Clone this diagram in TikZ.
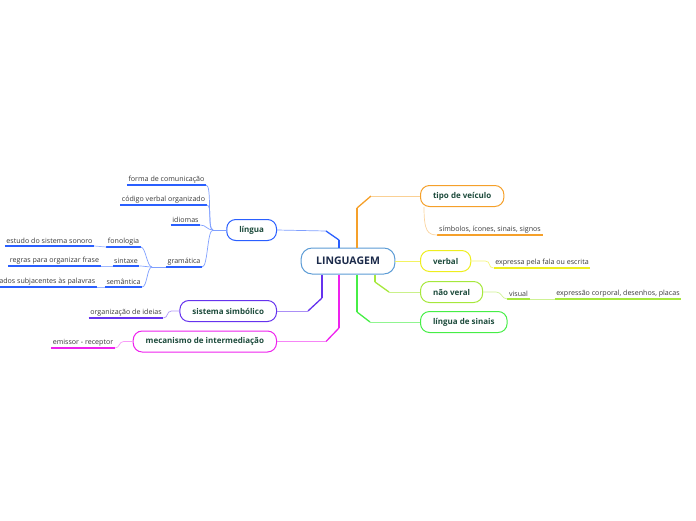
\documentclass[tikz,border=0pt]{standalone}
\usepackage{fontspec}
\setmainfont{Open Sans}
\usetikzlibrary{positioning}
\definecolor{cRoot}{HTML}{5B9BD5}
\definecolor{cRootInk}{HTML}{1B2A4A}
\definecolor{cInk}{HTML}{1D4B3C}
\definecolor{cLingua}{HTML}{2A5FFF}
\definecolor{cSist}{HTML}{6633EE}
\definecolor{cMec}{HTML}{EE22EE}
\definecolor{cTipo}{HTML}{F5A02A}
\definecolor{cVerbal}{HTML}{EEEE1E}
\definecolor{cNao}{HTML}{A6E83C}
\definecolor{cSinais}{HTML}{46EE46}

\begin{document}
\begin{tikzpicture}[x=1pt, y=-1pt,
  topic/.style={draw, line width=1pt, rounded corners=9pt, fill=white,
    minimum height=21pt, inner xsep=12.5pt, text=cInk,
    font=\fontsize{8}{9.5}\selectfont\bfseries},
  central/.style={topic, draw=cRoot, minimum height=26pt, inner xsep=15pt,
    rounded corners=11pt, text=cRootInk, font=\fontsize{10.5}{12}\selectfont\bfseries},
  leaf/.style={inner xsep=1.5pt, inner ysep=1.8pt, text=black!78,
    font=\fontsize{7.1}{8.5}\selectfont},
  trunk/.style={line width=2.4pt},
  elbow/.style={line width=1.3pt},
  twig/.style={line width=0.7pt},
  uline/.style={line width=1.4pt}
]
\useasboundingbox (0,0) rectangle (696,520);

% centre and main topics
\node[central] (root) at (348,261) {LINGUAGEM};
\node[topic, draw=cTipo, anchor=west] (tipo) at (420,196) {tipo de veículo};
\node[topic, draw=cVerbal, anchor=west] (verbal) at (420,261) {verbal};
\node[topic, draw=cNao, anchor=west] (nao) at (420,292) {não veral};
\node[topic, draw=cSinais, anchor=west] (sinais) at (420,322) {língua de sinais};
\node[topic, draw=cLingua, anchor=east] (lingua) at (277,230) {língua};
\node[topic, draw=cSist, anchor=east] (sist) at (277,311) {sistema simbólico};
\node[topic, draw=cMec, anchor=east] (mec) at (277,341.5) {mecanismo de intermediação};

% leaves
\node[leaf, anchor=south] (simb) at (490,235) {símbolos, ícones, sinais, signos};
\node[leaf, anchor=south] (fala) at (542,268) {expressa pela fala ou escrita};
\node[leaf, anchor=south] (visual) at (518.5,299) {visual};
\node[leaf, anchor=south] (corpo) at (618,299) {expressão corporal, desenhos, placas};
\node[leaf, anchor=south] (forma) at (166.5,185) {forma de comunicação};
\node[leaf, anchor=south] (codigo) at (163.5,205) {código verbal organizado};
\node[leaf, anchor=south] (idiomas) at (185.5,225) {idiomas};
\node[leaf, anchor=south] (gram) at (184,267) {gramática};
\node[leaf, anchor=south] (fono) at (123.5,247) {fonologia};
\node[leaf, anchor=south] (sint) at (126,266) {sintaxe};
\node[leaf, anchor=south] (sema) at (123.5,287) {semântica};
\node[leaf, anchor=south] (sonoro) at (49.5,246) {estudo do sistema sonoro};
\node[leaf, anchor=south] (regras) at (54.5,266) {regras para organizar frase};
\node[leaf, anchor=south east] (signif) at (97,287) {significados subjacentes às palavras};
\node[leaf, anchor=south] (ideias) at (126,318) {organização de ideias};
\node[leaf, anchor=south] (emissor) at (83,348) {emissor - receptor};

\foreach \n/\c in {simb/cTipo, fala/cVerbal, visual/cNao, corpo/cNao,
  forma/cLingua, codigo/cLingua, idiomas/cLingua, gram/cLingua, fono/cLingua,
  sint/cLingua, sema/cLingua, sonoro/cLingua, regras/cLingua, signif/cLingua,
  ideias/cSist, emissor/cMec}
  \draw[uline, \c] (\n.south west) -- (\n.south east);

% branches from the centre
\coordinate (kLin) at (339,240); \coordinate (dLin) at (326,231);
\coordinate (kTip) at (357,208); \coordinate (dTip) at (371,196);
\coordinate (kNao) at (375,282); \coordinate (dNao) at (389,292);
\coordinate (kSin) at (357,312); \coordinate (dSin) at (370,322);
\coordinate (kSis) at (322,298); \coordinate (dSis) at (308,311);
\coordinate (kMec) at (339,328); \coordinate (dMec) at (326,341.5);

\draw[trunk, cLingua] (root.north -| kLin) -- (kLin);
\draw[elbow, cLingua] (kLin) -- (dLin);
\draw[twig, cLingua!60] (dLin) -- (lingua.east);
\draw[trunk, cTipo] (root.north -| kTip) -- (kTip);
\draw[elbow, cTipo] (kTip) -- (dTip);
\draw[twig, cTipo!50] (dTip) -- (tipo.west);
\draw[twig, cVerbal!70] (root.east) -- (verbal.west);
\draw[trunk, cNao] (root.south -| kNao) -- (kNao);
\draw[elbow, cNao] (kNao) -- (dNao);
\draw[twig, cNao!60] (dNao) -- (nao.west);
\draw[trunk, cSinais] (root.south -| kSin) -- (kSin);
\draw[elbow, cSinais] (kSin) -- (dSin);
\draw[twig, cSinais!60] (dSin) -- (sinais.west);
\draw[trunk, cSist] (root.south -| kSis) -- (kSis);
\draw[elbow, cSist] (kSis) -- (dSis);
\draw[twig, cSist!55] (dSis) -- (sist.east);
\draw[trunk, cMec] (root.south -| kMec) -- (kMec);
\draw[elbow, cMec] (kMec) -- (dMec);
\draw[twig, cMec!55] (dMec) -- (mec.east);

% sub branches
\draw[twig, cTipo!45] ([xshift=4pt]tipo.south west) .. controls +(0,24) and +(-10,0) .. (simb.south west);
\draw[twig, cVerbal!60] (verbal.east) -- +(14,0) .. controls +(6,0) and +(-6,0) .. (fala.south west);
\draw[twig, cNao!55] (nao.east) -- +(13,0) .. controls +(6,0) and +(-6,0) .. (visual.south west);
\draw[twig, cNao!55] (visual.south east) -- (corpo.south west);
\draw[twig, cSist!50] (sist.west) -- +(-8,0) .. controls +(-5,0) and +(5,0) .. (ideias.south east);
\draw[twig, cMec!45] (mec.west) -- +(-9,0) .. controls +(-5,0) and +(5,0) .. (emissor.south east);

\coordinate (jLin) at (213,230);
\draw[twig, cLingua!60] (lingua.west) -- (jLin);
\foreach \n in {forma, codigo, idiomas, gram}
  \draw[twig, cLingua!60] (jLin) .. controls +(-6,0) and +(6,0) .. (\n.south east);
\coordinate (jGra) at (152,267);
\draw[twig, cLingua!60] (gram.south west) -- (jGra);
\foreach \n in {fono, sint, sema}
  \draw[twig, cLingua!60] (jGra) .. controls +(-5,0) and +(5,0) .. (\n.south east);
\draw[twig, cLingua!45] (fono.south west) -- (sonoro.south east);
\draw[twig, cLingua!45] (sint.south west) -- (regras.south east);
\draw[twig, cLingua!45] (sema.south west) -- (signif.south east);
\end{tikzpicture}
\end{document}
